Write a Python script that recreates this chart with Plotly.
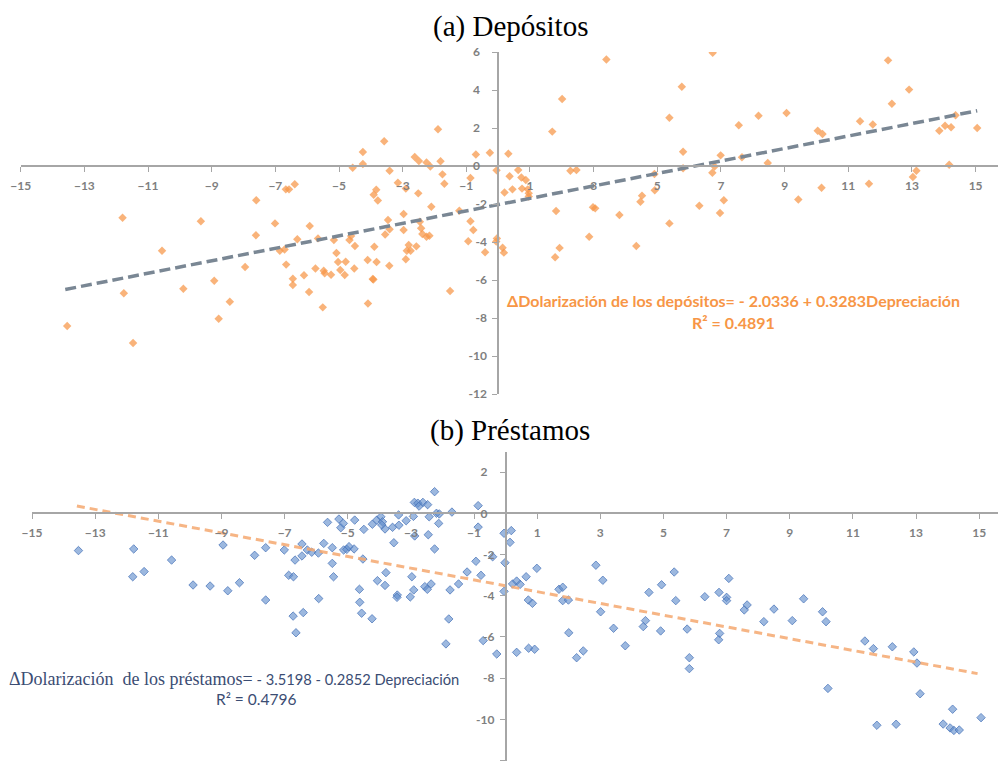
import plotly.graph_objects as go

# ---------------- data: panel (a) Depósitos ----------------
dep_x = [-1.89, -4.25, -4.25, -4.57, -3.58, -3.41, -2.62, -2.49, -2.25, -2.13, -1.81, -1.75, -1.69,
         -2.51, -3.15, -2.9, -3.83, -3.91, -3.78, -0.70, -0.26, -0.05, -0.87, -6.67, -6.57, -6.39,
         -7.6, -11.8, -11.76, -11.47, -13.54, -10.56, -9.89, -9.34, -8.92, -8.78, -8.43, -7.95,
         -7.61, -7.01, -6.86, -6.71, -6.66, -6.45, -6.45, -6.31, -6.1, -5.94, -5.92, -5.74, -5.66,
         -5.51, -5.48, -5.45, -5.25, -5.16, -5.08, -5.03, -4.96, -4.82, -4.79, -4.67, -4.62, -4.5,
         -4.52, -4.1, -4.09, -3.94, -3.92, -3.89, -3.82, -3.46, -3.55, -3.41, -3.42, -2.97, -2.97,
         -2.81, -2.87, -2.75, -2.9, -2.57, -2.46, -2.42, -2.38, -2.25, -2.16, -2.1, -1.51, -1.22,
         -0.87, -0.78, -0.94, -0.41, -0.04, -0.06, 0.14, 0.18, 0.32, 0.36, 0.63, 0.73, 0.87, 0.93,
         0.96, 0.75, 0.45, 0.2, 0.96, 1.7, 1.82, 1.79, 1.93, 3.4, 6.74, 12.25, 5.77, 2.01, 12.91,
         12.37, 5.38, 8.18, 9.06, 7.56, 10.04, 10.19, 11.37, 11.77, 13.86, 14.04, 14.23, 14.37,
         15.05, 5.81, 6.99, 7.66, 8.47, 14.17, 5.81, 6.8, 6.73, 2.27, 2.46, 4.91, 13.03, 13.14,
         11.65, 10.16, 7.09, 9.43, 4.52, 4.47, 4.92, 2.98, 3.05, 3.81, 6.32, 6.97, 5.38, 2.86, 4.34]
dep_y = [1.93, 0.74, 0.1, -0.09, 1.3, -0.25, 0.47, 0.26, 0.19, -0.03, 0.25, -0.44, -0.93,
         -1.44, -0.88, -1.19, -1.25, -1.51, -1.82, 0.6, 0.7, -0.23, -0.63, -1.23, -1.23, -0.96,
         -1.8, -2.72, -6.7, -9.32, -8.42, -4.46, -6.46, -2.91, -6.04, -8.04, -7.14, -5.32,
         -3.65, -3.02, -4.46, -4.39, -5.19, -5.93, -6.26, -3.86, -5.75, -6.63, -3.16, -5.39, -3.81,
         -7.44, -5.51, -5.65, -5.72, -3.89, -4.58, -5.05, -5.47, -5.74, -5.04, -3.89, -3.68, -4.21,
         -5.39, -4.95, -7.24, -5.95, -5.97, -4.25, -5.05, -2.84, -3.61, -3.33, -5.25, -2.53, -3.37,
         -4.16, -4.46, -4.46, -4.91, -4.23, -2.93, -3.28, -3.58, -3.72, -3.67, -2.14, -6.58, -2.35,
         -2.91, -3.37, -3.96, -4.54, -3.81, -3.98, -4.3, -4.56, 0.65, -0.54, -0.21, -0.6, -0.74, -1.23,
         -1.44, -1.19, -1.23, -1.39, -1.61, 1.81, -2.37, -4.8, -4.31, 5.61, 5.96, 5.56, 4.17, 3.53, 4.02,
         3.28, 2.54, 2.65, 2.79, 2.14, 1.86, 1.68, 2.35, 2.18, 1.86, 2.12, 2.04, 2.67,
         2.0, 0.75, 0.56, 0.46, 0.16, 0.07, -0.12, -0.03, -0.35, -0.25, -0.21, -0.42, -0.58, -0.25,
         -0.93, -1.14, -1.8, -1.76, -1.56, -1.88, -1.28, -2.17, -2.23, -2.58, -2.09, -2.47, -3.02, -3.72, -4.21]

dep_intercept = -2.0336
dep_slope = 0.3283
dep_fit_x = [-13.6, 15.05]
dep_eq = "ΔDolarización de los depósitos= - 2.0336 + 0.3283Depreciación"
dep_r2 = "R² = 0.4891"

# ---------------- data: panel (b) Préstamos ----------------
pre_x = [-13.53, -11.78, -11.45, -11.81, -10.58, -8.95, -7.95, -7.6, -7.01, -6.45, -6.67, -6.45,
         -6.28, -6.14, -5.93, -5.76, -5.49, -5.49, -5.64, -5.28, -5.22, -5.14, -4.78, -4.49, -5.13,
         -5.03, -4.96, -4.8, -4.52, -4.22, -4.08, -3.95, -3.9, -3.92, -3.82, -3.58, -3.39, -3.38,
         -3.15, -3.54, -2.92, -2.88, -2.89, -2.78, -2.74, -2.62, -2.47, -2.25, -2.42, -2.45, -2.25,
         -2.19, -2.1, -2.12, -1.70, -0.87, -0.87, -0.94, -1.22, -0.78, -0.41, -2.97, -3.79, -4.06,
         -5.45, -6.87, -6.72, -5.92, -6.73, -6.41, -4.63, -4.62, -4.56, -4.23, -3.82, -3.43, -3.44,
         -3.02, -2.91, -2.56, -2.48, -2.36, -9.9, -9.36, -8.8, -8.43, -7.6, -6.64, -1.76, -1.49,
         -1.8, -1.89, -0.71, -0.28, -0.05, 0.18, 0.14, -0.02, 0.99, -0.05, 0.22, 0.35, 0.46, 0.65,
         0.72, 0.85, 1.69, 1.81, 1.81, 1.99, 2.86, 5.34, 7.07, 3.08, 0.35, 0.73, 0.92, 2.0, 2.25,
         2.46, 3.01, 3.42, 3.79, 4.54, 4.36, 4.43, 4.94, 4.91, 5.39, 5.75, 5.82, 5.82, 6.31, 6.76,
         7.0, 7.0, 6.78, 6.75, 7.56, 7.65, 8.18, 8.5, 9.08, 9.44, 10.04, 10.15, 10.21, 11.38, 11.65,
         11.76, 12.25, 12.37, 12.93, 13.03, 13.13, 13.86, 14.08, 14.16, 14.2, 14.37, 15.06]
pre_y = [-1.81, -1.73, -2.83, -3.08, -2.27, -1.54, -2.04, -1.67, -1.78, -1.49, -2.27, -2.07,
         -1.78, -1.89, -1.93, -1.46, -1.67, -2.43, -0.44, -0.28, -0.7, -0.49, -0.33, -0.78, -1.78,
         -1.75, -1.62, -1.73, -2.22, -0.53, -0.33, -0.17, -0.41, -0.57, -0.76, -0.68, -0.08, -0.58,
         -0.36, -1.43, -0.15, -1.1, 0.53, 0.49, 0.35, 0.53, 0.42, 1.05, -0.17, -1.04, -1.73,
         0.0, -0.03, -0.49, 0.06, 0.37, -0.67, -2.33, -2.85, -3.01, -2.11, -3.08, -2.88, -3.27,
         -3.08, -3.01, -3.08, -4.14, -4.99, -4.82, -3.69, -4.32, -4.85, -5.12, -3.5, -3.97, -4.08,
         -4.06, -3.72, -3.56, -3.69, -3.43, -3.48, -3.53, -3.76, -3.37, -4.21, -5.8, -3.72, -3.43,
         -5.13, -6.34, -6.18, -6.83, -0.97, -0.84, -1.41, -2.4, -2.67, -3.79, -3.43, -3.29, -3.45, -3.08,
         -4.21, -4.37, -3.69, -3.59, -4.24, -4.21, -2.52, -2.85, -3.16, -3.25, -6.75, -6.55, -6.6, -5.8, -7.01,
         -6.68, -4.78, -5.58, -6.43, -3.84, -5.5, -5.21, -3.47, -5.71, -4.24, -5.62, -7.01, -7.54, -4.05, -3.84,
         -4.08, -4.24, -5.83, -6.14, -4.69, -4.45, -5.26, -4.65, -5.21, -4.15, -4.78, -5.26, -8.5, -6.2, -6.57,
         -10.29, -6.48, -10.24, -6.73, -7.27, -8.76, -10.23, -10.42, -9.51, -10.54, -10.52, -9.92]

pre_intercept = -3.5198
pre_slope = -0.2852
pre_fit_x = [-13.58, 14.95]
pre_eq_serif = "ΔDolarización  de los préstamos="
pre_eq_sans = " - 3.5198 - 0.2852 Depreciación"
pre_r2 = "R² = 0.4796"

x_ticks = list(range(-15, 16, 2))
dep_y_ticks = list(range(-12, 7, 2))
pre_y_ticks = list(range(-12, 3, 2))

# ---------------- figure ----------------
W, H = 998, 764
fig = go.Figure()

fig.add_trace(go.Scatter(x=dep_x, y=dep_y, mode="markers", xaxis="x", yaxis="y",
                         marker=dict(symbol="diamond", size=6.5, color="rgba(247,150,70,0.72)",
                                     line=dict(width=0)), showlegend=False))
fig.add_trace(go.Scatter(x=dep_fit_x, y=[dep_intercept + dep_slope * v for v in dep_fit_x],
                         mode="lines", xaxis="x", yaxis="y",
                         line=dict(color="#7a8794", width=3.5, dash="11px,5px"), showlegend=False))

fig.add_trace(go.Scatter(x=pre_x, y=pre_y, mode="markers", xaxis="x2", yaxis="y2",
                         marker=dict(symbol="diamond", size=6.5, color="rgba(95,140,204,0.62)",
                                     line=dict(width=1, color="rgba(75,118,185,0.75)")),
                         showlegend=False))
fig.add_trace(go.Scatter(x=pre_fit_x, y=[pre_intercept + pre_slope * v for v in pre_fit_x],
                         mode="lines", xaxis="x2", yaxis="y2",
                         line=dict(color="rgba(244,168,112,0.85)", width=3, dash="8px,5px"),
                         showlegend=False))

tickfont = dict(family="Lato", size=12, color="#7f7f7f", weight="bold")
axcolor = "#a6a6a6"


def ylabels(vals):
    return [str(v) if v < 0 else str(v) + "\u2007" for v in vals]


# panel (a) geometry (pixels)
a_x0, a_px_per = 20.7, 31.83
a_y0_px, a_py_per = 166.0, 19.0
a_xmax = -15 + (W - a_x0) / a_px_per
a_dom_y = [1 - (a_y0_px + 12 * a_py_per) / H, 1 - (a_y0_px - 6 * a_py_per) / H]
# panel (b) geometry
b_x0, b_px_per = 32.05, 31.57
b_y0_px, b_py_per = 513.3, 20.6
b_xmax = -15 + (W - b_x0) / b_px_per
b_dom_y = [1 - (b_y0_px + 12 * b_py_per) / H, 1 - (b_y0_px - 3 * b_py_per) / H]

common_x = dict(showgrid=False, zeroline=False, showline=True, linecolor=axcolor, linewidth=1.5,
                ticks="outside", ticklen=5, tickwidth=1.2, tickcolor=axcolor, tickvals=x_ticks,
                tickfont=tickfont, ticklabelstandoff=4, fixedrange=True, automargin=False)
common_y = dict(showgrid=False, zeroline=False, showline=True, linecolor=axcolor, linewidth=1.5,
                ticks="outside", ticklen=5, tickwidth=1.2, tickcolor=axcolor,
                tickfont=tickfont, ticklabelstandoff=3, fixedrange=True, automargin=False)

fig.update_layout(
    width=W, height=H, margin=dict(l=0, r=0, t=0, b=0, pad=0, autoexpand=False),
    paper_bgcolor="white", plot_bgcolor="white",
    xaxis=dict(common_x, domain=[a_x0 / W, 1], range=[-15, a_xmax], anchor="free",
               position=1 - a_y0_px / H),
    yaxis=dict(common_y, domain=a_dom_y, range=[-12, 6], anchor="free",
               position=(a_x0 + 15 * a_px_per) / W, tickvals=dep_y_ticks,
               ticktext=ylabels(dep_y_ticks)),
    xaxis2=dict(common_x, domain=[b_x0 / W, 1], range=[-15, b_xmax], anchor="free",
                position=1 - b_y0_px / H),
    yaxis2=dict(common_y, domain=b_dom_y, range=[-12, 3], anchor="free",
                position=(b_x0 + 15 * b_px_per) / W, tickvals=pre_y_ticks,
                ticktext=ylabels(pre_y_ticks)),
)

ann = []
ann.append(dict(text="(a) Depósitos", x=510.7 / W, y=1 - 26.0 / H, xref="paper", yref="paper",
                showarrow=False, xanchor="center", yanchor="middle",
                font=dict(family="Liberation Serif", size=29, color="black")))
ann.append(dict(text="(b) Préstamos", x=510.0 / W, y=1 - 430.5 / H, xref="paper", yref="paper",
                showarrow=False, xanchor="center", yanchor="middle",
                font=dict(family="Liberation Serif", size=29, color="black")))
ann.append(dict(text=dep_eq, x=733.5 / W, y=1 - 300.7 / H, xref="paper", yref="paper",
                showarrow=False, xanchor="center", yanchor="middle",
                font=dict(family="Lato", size=16, color="#f79646", weight="bold")))
ann.append(dict(text=dep_r2, x=733.0 / W, y=1 - 322.0 / H, xref="paper", yref="paper",
                showarrow=False, xanchor="center", yanchor="middle",
                font=dict(family="Lato", size=16, color="#f79646", weight="bold")))
eq_b = ('<span style="font-family:Liberation Serif;font-size:18px">' + pre_eq_serif + '</span>'
        + pre_eq_sans)
ann.append(dict(text=eq_b, x=234.0 / W, y=1 - 679.0 / H, xref="paper", yref="paper",
                showarrow=False, xanchor="center", yanchor="middle",
                font=dict(family="Lato", size=14.7, color="#3b4d73")))
ann.append(dict(text=pre_r2, x=256.0 / W, y=1 - 699.0 / H, xref="paper", yref="paper",
                showarrow=False, xanchor="center", yanchor="middle",
                font=dict(family="Lato", size=15.5, color="#3b4d73")))
fig.update_layout(annotations=ann)

fig.write_html("out.html")
